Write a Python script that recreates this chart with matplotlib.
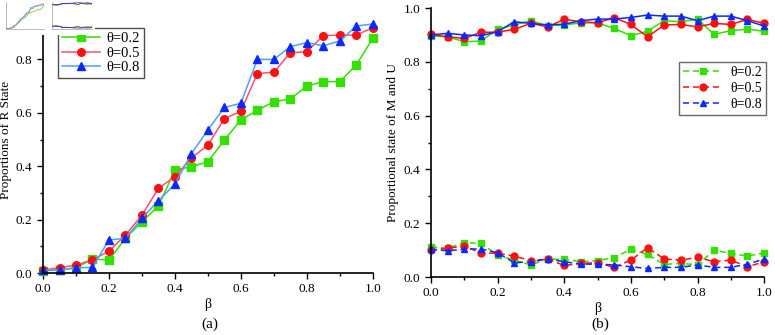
import matplotlib
matplotlib.use("Agg")
import matplotlib.pyplot as plt
from matplotlib.ticker import MultipleLocator
import numpy as np

plt.rcParams['font.family'] = ['Liberation Serif', 'DejaVu Serif']

beta = [0.0, 0.05, 0.1, 0.15, 0.2, 0.25, 0.3, 0.35, 0.4, 0.45, 0.5,
        0.55, 0.6, 0.65, 0.7, 0.75, 0.8, 0.85, 0.9, 0.95, 1.0]
labels = ["θ=0.2", "θ=0.5", "θ=0.8"]

# Panel (a): proportions of R state
r_02 = [0.009, 0.011, 0.02, 0.052, 0.049, 0.13, 0.192, 0.251, 0.386, 0.398, 0.417,
        0.498, 0.574, 0.609, 0.642, 0.652, 0.70, 0.717, 0.717, 0.779, 0.879]
r_05 = [0.011, 0.02, 0.03, 0.049, 0.082, 0.142, 0.217, 0.317, 0.361, 0.431, 0.479,
        0.578, 0.606, 0.747, 0.752, 0.825, 0.829, 0.889, 0.891, 0.891, 0.919]
r_08 = [0.01, 0.011, 0.02, 0.021, 0.124, 0.13, 0.205, 0.271, 0.333, 0.447, 0.536,
        0.62, 0.636, 0.80, 0.80, 0.848, 0.863, 0.851, 0.869, 0.925, 0.933]

# Panel (b): M (upper, solid) and U (lower, dashed)
m_02 = [0.896, 0.893, 0.875, 0.877, 0.921, 0.937, 0.953, 0.934, 0.937, 0.945, 0.945,
        0.924, 0.897, 0.914, 0.953, 0.949, 0.959, 0.902, 0.916, 0.921, 0.914]
m_05 = [0.902, 0.893, 0.887, 0.91, 0.91, 0.921, 0.943, 0.93, 0.958, 0.949, 0.945,
        0.964, 0.939, 0.893, 0.937, 0.939, 0.93, 0.943, 0.939, 0.958, 0.943]
m_08 = [0.90, 0.906, 0.90, 0.897, 0.912, 0.949, 0.943, 0.937, 0.94, 0.953, 0.959,
        0.959, 0.965, 0.974, 0.97, 0.97, 0.953, 0.97, 0.97, 0.953, 0.933]
u_02 = [0.113, 0.107, 0.128, 0.125, 0.082, 0.063, 0.045, 0.067, 0.066, 0.057, 0.061,
        0.072, 0.103, 0.084, 0.047, 0.051, 0.045, 0.10, 0.088, 0.078, 0.09]
u_05 = [0.10, 0.107, 0.115, 0.09, 0.088, 0.078, 0.061, 0.067, 0.043, 0.051, 0.053,
        0.036, 0.063, 0.109, 0.067, 0.063, 0.073, 0.057, 0.063, 0.038, 0.057]
u_08 = [0.103, 0.098, 0.103, 0.105, 0.09, 0.053, 0.057, 0.067, 0.057, 0.048, 0.048,
        0.045, 0.038, 0.032, 0.036, 0.036, 0.045, 0.036, 0.036, 0.048, 0.067]

mk_col = ['#33e000', '#ff1010', '#0a28ff']
ln_col_a = ['#33dd00', '#ff4d73', '#4d9fff']
ln_col_b = ['#33dd00', '#ff1010', '#0a28ff']
markers = ['s', 'o', '^']

fig = plt.figure(figsize=(7.75, 3.35), dpi=100)

def style_axes(ax, ylabel):
    for s in ['top', 'right']:
        ax.spines[s].set_visible(False)
    for s in ['left', 'bottom']:
        ax.spines[s].set_linewidth(1.2)
    ax.set_xlim(0, 1.0)
    ax.xaxis.set_major_locator(MultipleLocator(0.2))
    ax.xaxis.set_minor_locator(MultipleLocator(0.1))
    ax.yaxis.set_major_locator(MultipleLocator(0.2))
    ax.yaxis.set_minor_locator(MultipleLocator(0.1))
    ax.tick_params(which='major', length=4, width=1.0, labelsize=9.5, direction='out')
    ax.tick_params(which='minor', length=2.5, width=1.0, direction='out')
    ax.set_xticks([0.0, 0.2, 0.4, 0.6, 0.8, 1.0])
    ax.set_xticklabels(['0.0', '0.2', '0.4', '0.6', '0.8', '1.0'])
    ax.set_xlabel('β', fontsize=10, labelpad=2)
    ax.set_ylabel(ylabel, fontsize=9.5)
    ax.yaxis.set_label_coords(-0.095, 0.5)

# ---- panel (a)
ax1 = fig.add_axes([0.0555, 0.185, 0.4255, 0.797])
for ys, mc, lc, m, lab in zip([r_02, r_05, r_08], mk_col, ln_col_a, markers, labels):
    ax1.plot(beta, ys, color=lc, lw=1.1, marker=m, markersize=5.5,
             markerfacecolor=mc, markeredgecolor=mc, label=lab, clip_on=False)
ax1.set_ylim(0, 1.0)
style_axes(ax1, 'Proportions of R State')
ax1.set_yticks([0.0, 0.2, 0.4, 0.6, 0.8])
ax1.set_yticklabels(['0.0', '0.2', '0.4', '0.6', '0.8'])
ax1.set_ylim(0, 1.0)
leg1 = ax1.legend(loc='lower left', bbox_to_anchor=(58/775, 1-78/335),
                  bbox_transform=fig.transFigure, fontsize=10.5, frameon=True,
                  fancybox=False, edgecolor='#222222', handlelength=2.6,
                  borderpad=0.25, labelspacing=0.1, handletextpad=0.5,
                  borderaxespad=0)
leg1.get_frame().set_linewidth(1.0)

# ---- panel (b)
ax2 = fig.add_axes([0.556, 0.173, 0.430, 0.803])
for ys, mc, lc, m, lab in zip([m_02, m_05, m_08], mk_col, ln_col_b, markers, labels):
    ax2.plot(beta, ys, color=lc, lw=1.1, marker=m, markersize=5,
             markerfacecolor=mc, markeredgecolor=mc, clip_on=False)
for ys, mc, lc, m, lab in zip([u_02, u_05, u_08], mk_col, ln_col_b, markers, labels):
    ax2.plot(beta, ys, color=lc, lw=1.1, ls=(0, (4, 2.5)), marker=m, markersize=5,
             markerfacecolor=mc, markeredgecolor=mc, label=lab, clip_on=False)
ax2.set_ylim(0, 1.0)
style_axes(ax2, 'Proportional state of M and U')
leg2 = ax2.legend(loc='upper left', bbox_to_anchor=(679/775, 1-62/335),
                  bbox_transform=fig.transFigure, fontsize=10, frameon=True,
                  fancybox=False, edgecolor='#444444', handlelength=2.8,
                  borderpad=0.3, labelspacing=0.2, handletextpad=0.6,
                  borderaxespad=0)
leg2.get_frame().set_linewidth(1.0)

fig.text(0.271, 0.012, '(a)', ha='center', va='bottom', fontsize=11)
fig.text(0.775, 0.012, '(b)', ha='center', va='bottom', fontsize=11)

# ---- small thumbnail in the top-left corner
thumb_bg = fig.add_axes([0.0, 1 - 35/335, 95/775, 35/335])
thumb_bg.set_xticks([]); thumb_bg.set_yticks([])
for s in thumb_bg.spines.values():
    s.set_visible(False)
thumb_bg.set_zorder(10)
ta = fig.add_axes([6/775, 1 - 29/335, 38/775, 27/335])
tb = fig.add_axes([52/775, 1 - 29/335, 40/775, 27/335])
for t in (ta, tb):
    t.set_zorder(11)
    t.set_xlim(0, 1); t.set_ylim(0, 1)
    t.set_xticks([]); t.set_yticks([])
    for s in ['top', 'right']:
        t.spines[s].set_visible(False)
    for s in ['left', 'bottom']:
        t.spines[s].set_linewidth(0.4)
        t.spines[s].set_color('#888888')
for ys, lc in zip([r_02, r_05, r_08], ln_col_a):
    ta.plot(beta, ys, color=lc, lw=0.5)
for ys, lc in zip([m_02, m_05, m_08], ln_col_b):
    tb.plot(beta, ys, color=lc, lw=0.5)
for ys, lc in zip([u_02, u_05, u_08], ln_col_b):
    tb.plot(beta, ys, color=lc, lw=0.5)

fig.savefig('out.png', dpi=100)
